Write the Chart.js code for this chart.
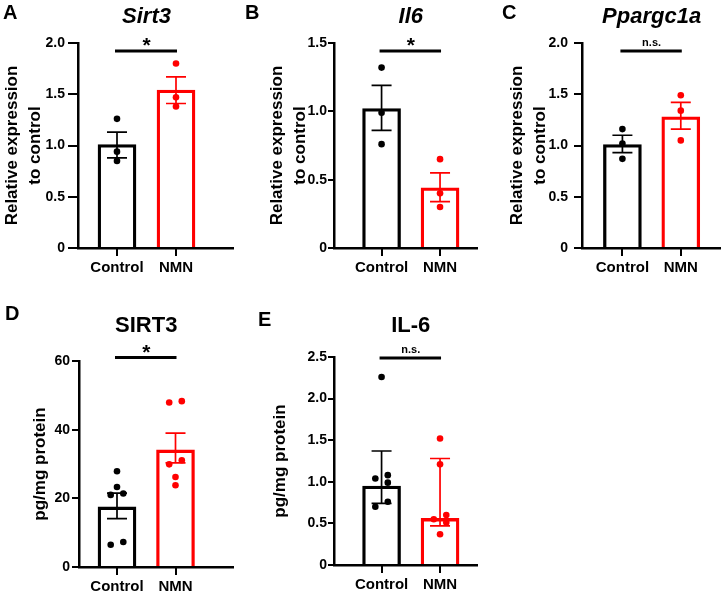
<!DOCTYPE html>
<html><head><meta charset="utf-8">
<script src="https://cdn.jsdelivr.net/npm/chart.js@4.4.1/dist/chart.umd.min.js"></script>
<style>
html,body{margin:0;padding:0;background:#fff;}
#wrap{position:relative;width:723px;height:595px;overflow:hidden;}
canvas{position:absolute;}
</style></head><body><div id="wrap">
<canvas id="cA" width="240" height="295" style="left:0;top:0"></canvas>
<canvas id="cB" width="240" height="295" style="left:240px;top:0"></canvas>
<canvas id="cC" width="243" height="295" style="left:480px;top:0"></canvas>
<canvas id="cD" width="240" height="300" style="left:0;top:295px"></canvas>
<canvas id="cE" width="240" height="300" style="left:240px;top:295px"></canvas>
</div>
<script>
// ---------- data ----------
const categories = ['Control', 'NMN'];
const panelLetters = ['A', 'B', 'C', 'D', 'E'];
const titles = ['Sirt3', 'Il6', 'Ppargc1a', 'SIRT3', 'IL-6'];
const sigLabels = ['*', '*', 'n.s.', '*', 'n.s.'];

// A: Sirt3 mRNA
const sirt3Mean = [1.01, 1.54];
const sirt3Hi = [1.13, 1.67];
const sirt3Lo = [0.88, 1.41];
const sirt3Control = [1.26, 0.94, 0.85];
const sirt3NMN = [1.80, 1.47, 1.38];
// B: Il6 mRNA
const il6Mean = [1.02, 0.44];
const il6Hi = [1.19, 0.55];
const il6Lo = [0.86, 0.34];
const il6Control = [1.32, 0.99, 0.76];
const il6NMN = [0.65, 0.40, 0.30];
// C: Ppargc1a mRNA
const ppargcMean = [1.01, 1.28];
const ppargcHi = [1.10, 1.42];
const ppargcLo = [0.93, 1.16];
const ppargcControl = [1.16, 1.02, 0.87];
const ppargcNMN = [1.49, 1.34, 1.05];
// D: SIRT3 protein
const sirt3pMean = [17.5, 34.1];
const sirt3pHi = [21.5, 39.0];
const sirt3pLo = [14.1, 30.3];
const sirt3pControl = [27.9, 23.3, 21.4, 21.0, 7.3, 6.5];
const sirt3pNMN = [48.3, 47.9, 31.1, 29.9, 26.2, 23.8];
// E: IL-6 protein (median, interquartile range)
const il6pMedian = [0.95, 0.56];
const il6pHi = [1.37, 1.28];
const il6pLo = [0.74, 0.47];
const il6pControl = [2.26, 1.08, 1.04, 0.99, 0.76, 0.70];
const il6pNMN = [1.52, 1.21, 0.60, 0.55, 0.51, 0.37];

// y-axis ticks
const relTicks = [0, 0.5, 1.0, 1.5, 2.0];
const il6Ticks = [0, 0.5, 1.0, 1.5];
const sirt3pTicks = [0, 20, 40, 60];
const il6pTicks = [0, 0.5, 1.0, 1.5, 2.0, 2.5];
const yTitleRel = ['Relative expression', 'to control'];
const yTitleProt = 'pg/mg protein';

// ---------- layout (page pixels) ----------
const FONT = "'Liberation Sans', Arial, Helvetica, sans-serif";
const RED = '#ff0000', BLACK = '#000000';
const colors = [BLACK, RED];

const panels = [
  {id:'cA', cv:{l:0,t:0,w:240,h:295}, area:{l:78,r:233,t:43,b:248}, c:[117,176],
   mean:sirt3Mean, hi:sirt3Hi, lo:sirt3Lo, pts:[sirt3Control, sirt3NMN], ticks:relTicks, dec:1,
   tickLen:10, tickPad:3,
   yTitle:yTitleRel, yPad:1, italic:true, titleY:23, letter:{x:3,y:19}, sigDy:8},
  {id:'cB', cv:{l:240,t:0,w:240,h:295}, area:{l:334,r:478,t:43,b:248}, c:[382,441],
   mean:il6Mean, hi:il6Hi, lo:il6Lo, pts:[il6Control, il6NMN], ticks:il6Ticks, dec:1,
   tickLen:6, tickPad:1,
   yTitle:yTitleRel, yPad:25.5, italic:true, titleY:23, letter:{x:245,y:19}, sigDy:8},
  {id:'cC', cv:{l:480,t:0,w:243,h:295}, area:{l:582,r:720,t:43,b:248}, c:[622.5,681],
   mean:ppargcMean, hi:ppargcHi, lo:ppargcLo, pts:[ppargcControl, ppargcNMN], ticks:relTicks, dec:1,
   tickLen:8, tickPad:6,
   yTitle:yTitleRel, yPad:25.5, italic:true, titleY:23, letter:{x:502,y:19}, sigDy:8},
  {id:'cD', cv:{l:0,t:295,w:240,h:300}, area:{l:79,r:233,t:361,b:567}, c:[117,175.5],
   mean:sirt3pMean, hi:sirt3pHi, lo:sirt3pLo, pts:[sirt3pControl, sirt3pNMN], ticks:sirt3pTicks, dec:0,
   tickLen:7, tickPad:2,
   yTitle:yTitleProt, yPad:28.5, italic:false, titleY:332, letter:{x:5,y:320}, sigDy:-3.5},
  {id:'cE', cv:{l:240,t:295,w:240,h:300}, area:{l:334,r:478,t:357,b:565}, c:[382,441],
   mean:il6pMedian, hi:il6pHi, lo:il6pLo, pts:[il6pControl, il6pNMN], ticks:il6pTicks, dec:1,
   tickLen:6, tickPad:1,
   yTitle:yTitleProt, yPad:28.5, italic:false, titleY:332, letter:{x:258,y:326}, sigDy:1}
];

// simple Prism-like scatter spreading: near-equal values are placed side by side
function swarm(values, cat, pxPerY, pxPerX) {
  const sorted = values.slice().sort((a, b) => b - a);
  const out = [];
  let group = [];
  const flush = () => {
    group.forEach((v, k) => {
      const off = group.length === 1 ? 0 : (k % 2 === 0 ? 1 : -1) * 6.3 / pxPerX;
      out.push({x: cat + off, y: v});
    });
    group = [];
  };
  sorted.forEach(v => {
    if (group.length && (group[group.length - 1] - v) * pxPerY >= 5.5) flush();
    group.push(v);
  });
  flush();
  return out;
}

const decor = {
  id: 'decor',
  afterDatasetDraw(chart, args, o) {
    if (args.index !== 0) return;
    const ctx = chart.ctx, xs = chart.scales.x, ys = chart.scales.y;
    ctx.save();
    ctx.lineWidth = 1.7;
    for (let i = 0; i < 2; i++) {
      const x = xs.getPixelForValue(i);
      const yh = ys.getPixelForValue(o.p.hi[i]), yl = ys.getPixelForValue(o.p.lo[i]);
      ctx.strokeStyle = colors[i];
      ctx.beginPath();
      ctx.moveTo(x, yh); ctx.lineTo(x, yl);
      ctx.moveTo(x - 10, yh); ctx.lineTo(x + 10, yh);
      ctx.moveTo(x - 10, yl); ctx.lineTo(x + 10, yl);
      ctx.stroke();
    }
    ctx.restore();
  },
  afterDraw(chart, args, o) {
    const p = o.p, ctx = chart.ctx, xs = chart.scales.x;
    const ox = p.cv.l, oy = p.cv.t;
    const x0 = xs.getPixelForValue(0), x1 = xs.getPixelForValue(1);
    const bottom = chart.chartArea.bottom;
    ctx.save();
    // category tick marks below the x axis
    ctx.strokeStyle = BLACK; ctx.lineWidth = 2;
    ctx.beginPath();
    [x0, x1].forEach(x => { const xa = Math.round(x); ctx.moveTo(xa, bottom); ctx.lineTo(xa, bottom + 8); });
    ctx.stroke();
    ctx.fillStyle = BLACK;
    // panel letter
    ctx.font = 'bold 20px ' + FONT;
    ctx.textAlign = 'left'; ctx.textBaseline = 'alphabetic';
    ctx.fillText(o.letter, p.letter.x - ox, p.letter.y - oy);
    // title
    ctx.font = (p.italic ? 'italic ' : '') + 'bold 22px ' + FONT;
    ctx.textAlign = 'center';
    ctx.fillText(o.title, (x0 + x1) / 2, p.titleY - oy);
    // significance bar
    const sy = chart.chartArea.top + p.sigDy;
    ctx.lineWidth = 3;
    ctx.beginPath(); ctx.moveTo(x0 - 2, sy); ctx.lineTo(x1 + 1, sy); ctx.stroke();
    if (o.sig === '*') {
      ctx.font = 'bold 21px ' + FONT;
      ctx.fillText('*', (x0 + x1) / 2, sy + 1);
    } else {
      ctx.font = 'bold 11px ' + FONT;
      ctx.fillText(o.sig, (x0 + x1) / 2, sy - 5);
    }
    ctx.restore();
  }
};

Chart.defaults.font.family = FONT;
Chart.defaults.color = BLACK;

panels.forEach((p, idx) => {
  const ymin = 0, ymax = p.ticks[p.ticks.length - 1];
  const pxPerX = p.c[1] - p.c[0];
  const xmin = -(p.c[0] - p.area.l) / pxPerX;
  const xmax = 1 + (p.area.r - p.c[1]) / pxPerX;
  const pxPerY = (p.area.b - p.area.t) / (ymax - ymin);
  const yW = p.area.l - p.cv.l;
  const xH = p.cv.t + p.cv.h - p.area.b;
  const scatter = [];
  const ptColors = [];
  p.pts.forEach((vals, cat) => {
    swarm(vals, cat, pxPerY, pxPerX).forEach(pt => { scatter.push(pt); ptColors.push(colors[cat]); });
  });
  new Chart(document.getElementById(p.id), {
    type: 'bar',
    data: {
      datasets: [
        {type: 'bar', data: p.mean.map((m, i) => ({x: i, y: m})),
         backgroundColor: '#ffffff', borderColor: colors, borderWidth: 3.3,
         borderSkipped: 'start', barThickness: 38, order: 2},
        {type: 'scatter', data: scatter, pointRadius: 3.3, pointBorderWidth: 0,
         pointBackgroundColor: ptColors, pointHoverRadius: 3.3, order: 1}
      ]
    },
    options: {
      responsive: false, animation: false,
      layout: {padding: {top: p.area.t - p.cv.t, right: p.cv.l + p.cv.w - p.area.r, bottom: 0, left: 0}},
      plugins: {legend: {display: false}, tooltip: {enabled: false},
        decor: {p: p, letter: panelLetters[idx], title: titles[idx], sig: sigLabels[idx]}},
      scales: {
        x: {type: 'linear', min: xmin, max: xmax, bounds: 'data', offset: false,
          afterBuildTicks: s => { s.ticks = [{value: 0}, {value: 1}]; },
          afterFit: s => { s.height = xH; },
          ticks: {callback: v => categories[v], font: {size: 15, weight: 'bold'}, color: BLACK,
                  padding: 3, maxRotation: 0, autoSkip: false},
          grid: {display: true, offset: false, drawOnChartArea: false, drawTicks: true, tickLength: 8,
                 color: BLACK, lineWidth: 2},
          border: {display: true, color: BLACK, width: 2.5}},
        y: {type: 'linear', min: ymin, max: ymax, bounds: 'data',
          afterBuildTicks: s => { s.ticks = p.ticks.map(v => ({value: v})); },
          afterFit: s => { s.width = yW; },
          ticks: {callback: v => v === 0 ? '0' : v.toFixed(p.dec), font: {size: 14, weight: 'bold'},
                  color: BLACK, padding: p.tickPad},
          grid: {display: true, offset: false, drawOnChartArea: false, drawTicks: true, tickLength: p.tickLen,
                 color: BLACK, lineWidth: 2},
          border: {display: true, color: BLACK, width: 2.5},
          title: {display: true, text: p.yTitle, color: BLACK,
                  font: {size: 17, weight: 'bold', lineHeight: 1.35}, padding: {top: p.yPad, bottom: 0}}}
      }
    },
    plugins: [decor]
  });
});
</script>
</body></html>
